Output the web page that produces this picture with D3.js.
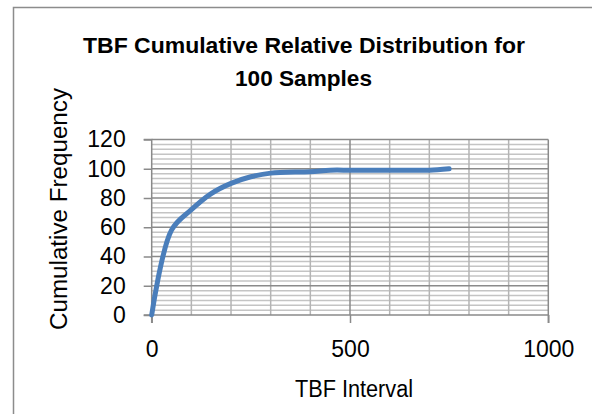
<!DOCTYPE html>
<html><head><meta charset="utf-8">
<script src="https://cdn.jsdelivr.net/npm/d3@7/dist/d3.min.js"></script>
<style>body{margin:0;background:#fff}svg{display:block}text{font-family:"Liberation Sans",Arial,sans-serif;fill:#000}</style>
</head><body><svg id="c" width="592" height="414"></svg>
<script>
const tbf = [0, 50, 100, 150, 200, 250, 300, 400, 450, 500, 550, 600, 650, 700, 750];
const cumFreq = [0, 58, 72, 83, 90, 94.5, 97, 98, 99, 99, 99, 99, 99, 99, 100];
const xTicks = [0, 500, 1000];
const yTicks = [0, 20, 40, 60, 80, 100, 120];
const titleLines = ["TBF Cumulative Relative Distribution for", "100 Samples"];
const xTitle = "TBF Interval";
const yTitle = "Cumulative Frequency";

const svg = d3.select("#c");
const L = 151.7, R = 548.3, T = 139.5, B = 315;
const x = d3.scaleLinear().domain([0, 1000]).range([L, R]);
const y = d3.scaleLinear().domain([0, 120]).range([B, T]);

// chart border
svg.append("path").attr("d", `M13.5,414 V7.5 H592`).attr("fill","none").attr("stroke","#8c8c8c").attr("stroke-width",1.5);

const g = svg.append("g");
// minor gridlines
const yMinor = d3.range(0, 120.001, 20/6).filter(v => Math.abs(v/20 - Math.round(v/20)) > 1e-6);
g.selectAll(".ym").data(yMinor).join("line")
  .attr("x1", L).attr("x2", R).attr("y1", d => y(d)).attr("y2", d => y(d))
  .attr("stroke", "#c4c4c4").attr("stroke-width", 1.5);
const xMinor = d3.range(100, 1000, 100).filter(v => v % 500 !== 0);
g.selectAll(".xm").data(xMinor).join("line")
  .attr("x1", d => x(d)).attr("x2", d => x(d)).attr("y1", T).attr("y2", B)
  .attr("stroke", "#b4b4b4").attr("stroke-width", 1.5);
// major gridlines
g.selectAll(".yM").data(yTicks.filter(v => v > 0)).join("line")
  .attr("x1", L).attr("x2", R).attr("y1", d => y(d)).attr("y2", d => y(d))
  .attr("stroke", "#8a8a8a").attr("stroke-width", 1.5);
g.selectAll(".xM").data(xTicks.filter(v => v > 0)).join("line")
  .attr("x1", d => x(d)).attr("x2", d => x(d)).attr("y1", T).attr("y2", B)
  .attr("stroke", "#8a8a8a").attr("stroke-width", 1.5);

// axes
const xAxis = d3.axisBottom(x).tickValues(xTicks).tickSize(8).tickPadding(18).tickFormat(d3.format("d"));
const yAxis = d3.axisLeft(y).tickValues(yTicks).tickSize(8).tickPadding(18).tickFormat(d3.format("d"));
const gx = svg.append("g").attr("transform", `translate(0,${B})`).call(xAxis);
const gy = svg.append("g").attr("transform", `translate(${L},0)`).call(yAxis);
[gx, gy].forEach(a => {
  a.select(".domain").attr("stroke", "#8a8a8a").attr("stroke-width", 1.5);
  a.selectAll(".tick line").attr("stroke", "#8a8a8a").attr("stroke-width", 1.5);
  a.selectAll(".tick text").attr("font-size", 23).attr("font-family", '"Liberation Sans",Arial,sans-serif').attr("fill", "#000");
});
gy.select(".domain").attr("d", `M-8,${T}H0V${B}H-8`);
gx.select(".domain").attr("d", `M${L},8V0H${R}V8`);

// line
const line = d3.line().x((d, i) => x(tbf[i])).y(d => y(d)).curve(d3.curveCatmullRom.alpha(0.5));
svg.append("path").datum(cumFreq).attr("d", line)
  .attr("fill", "none").attr("stroke", "#4a7ebb").attr("stroke-width", 5).attr("stroke-linecap", "round").attr("stroke-linejoin","round");

// titles
svg.append("text").attr("x", 304).attr("y", 52.5).attr("text-anchor", "middle")
  .attr("font-size", 22).attr("font-weight", "bold")
  .attr("textLength", 442).attr("lengthAdjust", "spacingAndGlyphs").text(titleLines[0]);
svg.append("text").attr("x", 303.5).attr("y", 85.5).attr("text-anchor", "middle")
  .attr("font-size", 22).attr("font-weight", "bold")
  .attr("textLength", 137).attr("lengthAdjust", "spacingAndGlyphs").text(titleLines[1]);
svg.append("text").attr("x", 354).attr("y", 397).attr("text-anchor", "middle")
  .attr("font-size", 23).attr("textLength", 118).attr("lengthAdjust", "spacingAndGlyphs").text(xTitle);
svg.append("text").attr("transform", `translate(67,209) rotate(-90)`).attr("text-anchor", "middle")
  .attr("font-size", 23).attr("textLength", 242).attr("lengthAdjust", "spacingAndGlyphs").text(yTitle);
</script></body></html>
